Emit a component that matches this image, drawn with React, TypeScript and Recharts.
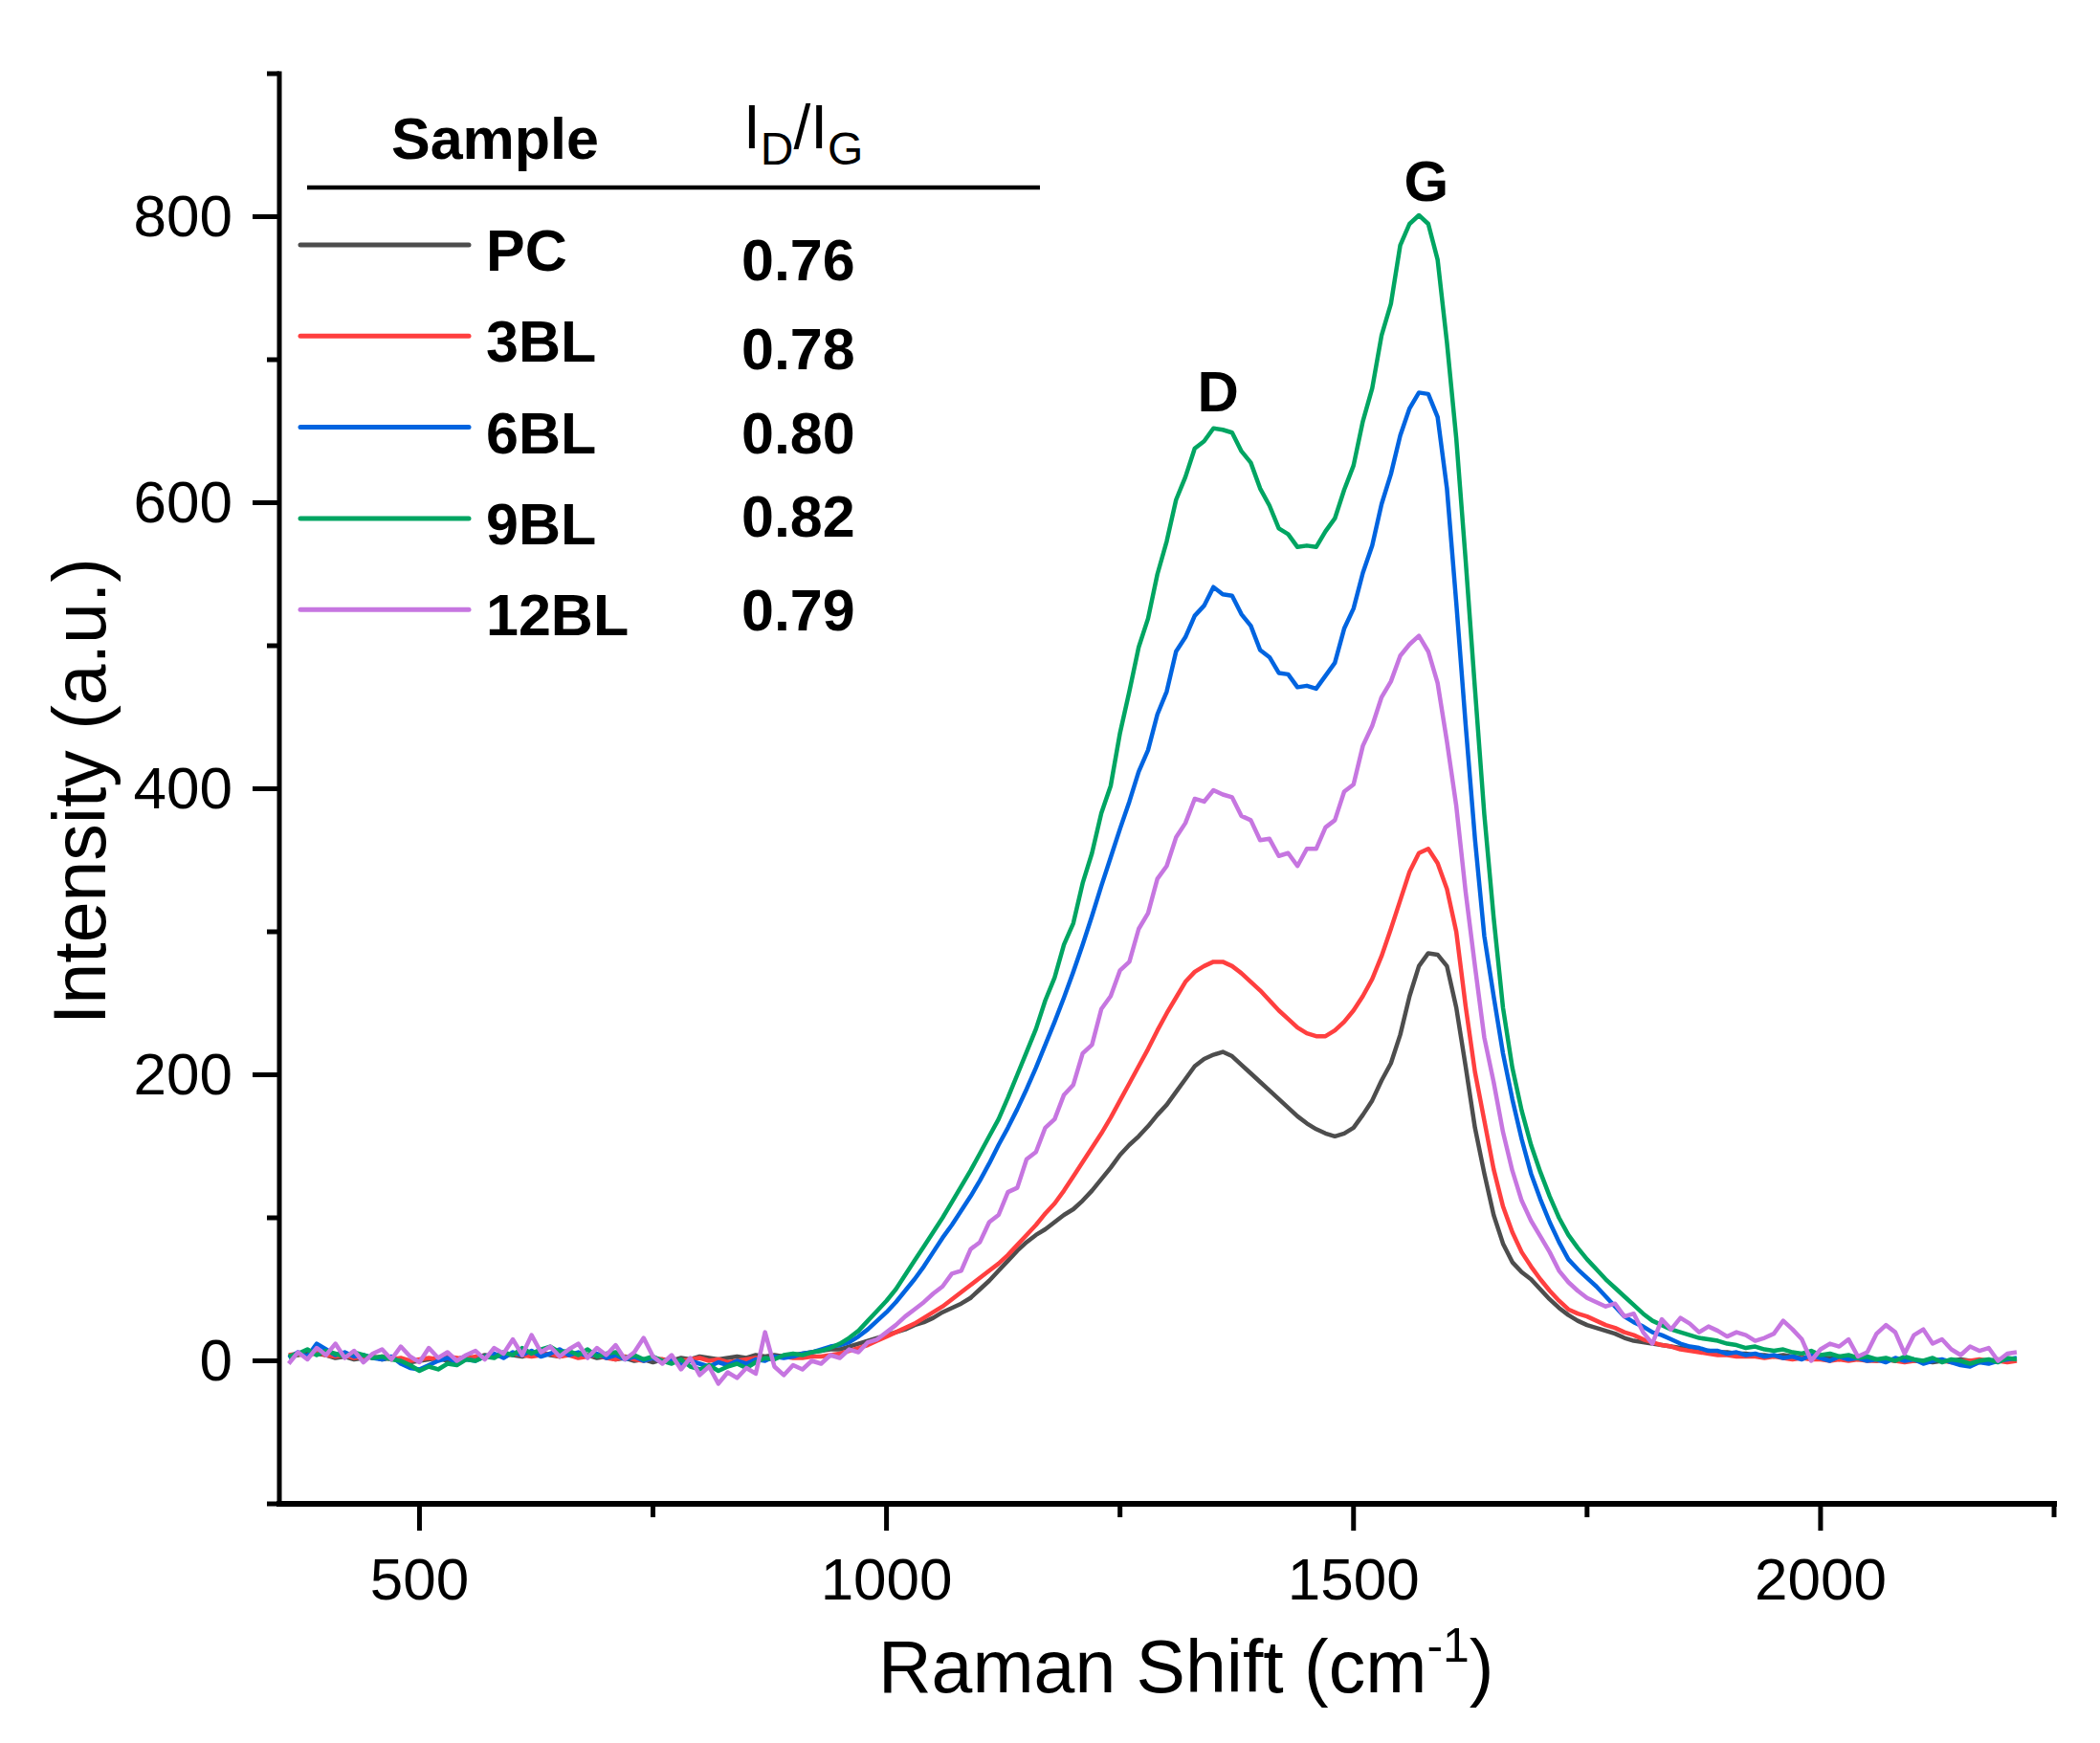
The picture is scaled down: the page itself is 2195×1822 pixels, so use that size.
import React from "react";
import { LineChart, Line, XAxis, YAxis, ReferenceDot } from "recharts";

// Raman shift sampling positions (cm-1)
const ramanShift = [
  360, 370, 380, 390, 400, 410, 420, 430, 440, 450,
  460, 470, 480, 490, 500, 510, 520, 530, 540, 550,
  560, 570, 580, 590, 600, 610, 620, 630, 640, 650,
  660, 670, 680, 690, 700, 710, 720, 730, 740, 750,
  760, 770, 780, 790, 800, 810, 820, 830, 840, 850,
  860, 870, 880, 890, 900, 910, 920, 930, 940, 950,
  960, 970, 980, 990, 1000, 1010, 1020, 1030, 1040, 1050,
  1060, 1070, 1080, 1090, 1100, 1110, 1120, 1130, 1140, 1150,
  1160, 1170, 1180, 1190, 1200, 1210, 1220, 1230, 1240, 1250,
  1260, 1270, 1280, 1290, 1300, 1310, 1320, 1330, 1340, 1350,
  1360, 1370, 1380, 1390, 1400, 1410, 1420, 1430, 1440, 1450,
  1460, 1470, 1480, 1490, 1500, 1510, 1520, 1530, 1540, 1550,
  1560, 1570, 1580, 1590, 1600, 1610, 1620, 1630, 1640, 1650,
  1660, 1670, 1680, 1690, 1700, 1710, 1720, 1730, 1740, 1750,
  1760, 1770, 1780, 1790, 1800, 1810, 1820, 1830, 1840, 1850,
  1860, 1870, 1880, 1890, 1900, 1910, 1920, 1930, 1940, 1950,
  1960, 1970, 1980, 1990, 2000, 2010, 2020, 2030, 2040, 2050,
  2060, 2070, 2080, 2090, 2100, 2110, 2120, 2130, 2140, 2150,
  2160, 2170, 2180, 2190, 2200, 2210,
];

// intensities (a.u.)
const pcIntensity = [
  3, 4, 6, 5, 4, 2, 3, 1, 2, 3,
  1, 2, 0, -1, 0, 1, 2, 0, 1, 3,
  2, 4, 3, 5, 4, 3, 5, 6, 4, 3,
  5, 3, 4, 2, 3, 1, 2, 0, 1, -1,
  1, 0, 2, 1, 3, 2, 1, 2, 3, 2,
  4, 3, 4, 3, 4, 5, 6, 7, 8, 8,
  10, 12, 14, 16, 18, 20, 22, 25, 27, 30,
  34, 37, 40, 44, 50, 56, 63, 70, 77, 83,
  88, 92, 97, 102, 106, 112, 119, 127, 135, 144,
  151, 157, 164, 172, 179, 188, 197, 206, 211, 214,
  216, 213, 207, 201, 195, 189, 183, 177, 171, 166,
  162, 159, 157, 159, 163, 172, 182, 196, 208, 228,
  255, 276, 285, 284, 276, 247, 206, 163, 131, 102,
  82, 69, 62, 57, 50, 43, 37, 32, 28, 25,
  23, 21, 19, 16, 14, 13, 12, 11, 10, 9,
  8, 7, 7, 6, 6, 5, 5, 4, 4, 3,
  4, 3, 2, 3, 2, 2, 1, 2, 1, 1,
  0, 1, 0, 1, 0, 0, -1, 0, 0, 1,
  0, -1, 0, 1, 0, 1,
];

const bl3Intensity = [
  4, 5, 3, 6, 4, 3, 4, 2, 3, 2,
  3, 1, 2, 0, 1, 2, 1, 3, 2, 1,
  3, 2, 4, 3, 5, 4, 3, 4, 5, 3,
  4, 2, 3, 4, 2, 1, 3, 1, 0, 2,
  1, -1, 0, 1, 2, 0, 1, -1, 0, 1,
  2, 1, 2, 3, 2, 2, 3, 3, 4, 5,
  7, 9, 11, 14, 17, 20, 23, 26, 30, 34,
  38, 43, 48, 53, 58, 63, 68, 74, 81, 88,
  95, 103, 110, 119, 129, 139, 149, 159, 170, 182,
  194, 206, 218, 231, 243, 254, 265, 272, 276, 279,
  279, 276, 271, 265, 259, 252, 245, 239, 233, 229,
  227, 227, 231, 237, 245, 255, 267, 283, 302, 322,
  342, 355, 358, 348, 330, 300, 248, 202, 168, 134,
  108, 90, 76, 66, 57, 49, 42, 36, 33, 31,
  28, 25, 23, 20, 18, 15, 13, 11, 10, 8,
  7, 6, 5, 4, 4, 3, 3, 3, 2, 3,
  2, 1, 2, 1, 1, 0, 1, 0, 1, 0,
  0, 1, 0, -1, 0, 0, 1, 0, -1, 0,
  0, 1, 0, 0, -1, 0,
];

const bl6Intensity = [
  2, 6, 3, 12, 8, 4, 6, 3, 4, 2,
  1, 3, -2, -5, -6, -3, 0, 2, -1, 1,
  0, 3, 5, 2, 6, 4, 7, 3, 5, 8,
  4, 6, 3, 5, 2, 4, 1, 3, 0, 2,
  -1, 1, -3, 0, -2, -4, -1, -3, 0, -2,
  1, 0, 3, 2, 3, 5, 6, 8, 10, 11,
  13, 17, 22, 28, 34, 41, 49, 57, 66, 76,
  86, 95, 105, 115, 126, 138, 151, 163, 176, 190,
  205, 221, 237, 254, 272, 291, 311, 332, 352, 372,
  391, 412, 427, 452, 468, 496, 506, 521, 528, 541,
  536, 535, 522, 514, 497, 492, 481, 480, 471, 472,
  470, 479, 488, 512, 526, 551, 570, 599, 620, 647,
  666, 677, 676, 660, 610, 530, 445, 365, 297, 255,
  215, 183, 155, 131, 113, 97, 83, 71, 64, 58,
  52, 45, 38, 31, 27, 24, 20, 18, 15, 12,
  10, 9, 7, 7, 5, 6, 4, 5, 3, 4,
  2, 3, 1, 4, 2, 0, 3, 1, 2, 0,
  1, -1, 2, 0, 1, -2, 0, 1, -1, -3,
  -4, -1, -2, 0, 1, 2,
];

const bl9Intensity = [
  3, 5, 8, 4, 7, 5, 3, 6, 4, 2,
  3, 1, 0, -3, -7, -4, -6, -2, -3, 1,
  0, 3, 2, 6, 4, 9, 5, 8, 10, 6,
  7, 4, 8, 3, 5, 6, 2, 4, 1, 3,
  0, -2, 1, -4, -6, -3, -7, -4, -2, -5,
  -1, 2, 1, 4, 5, 4, 6, 7, 9, 12,
  16, 21, 28, 35, 42, 50, 60, 70, 80, 90,
  100, 111, 122, 133, 145, 157, 169, 184, 200, 216,
  232, 252, 268, 291, 306, 334, 355, 383, 402, 439,
  468, 499, 519, 550, 573, 602, 618, 638, 643, 652,
  651, 649, 636, 628, 610, 598, 582, 578, 569, 570,
  569, 580, 589, 609, 626, 657, 680, 717, 739, 780,
  795, 801, 795, 770, 712, 645, 560, 470, 382, 310,
  247, 205, 175, 151, 132, 115, 100, 88, 79, 71,
  64, 57, 51, 45, 39, 33, 28, 25, 22, 20,
  18, 16, 15, 14, 12, 11, 9, 10, 8, 7,
  8, 6, 5, 7, 4, 5, 3, 4, 2, 3,
  1, 2, 0, 3, 1, 0, 2, -1, 1, 0,
  -2, 0, 1, -1, 2, 1,
];

const bl12Intensity = [
  -2, 6, 1, 9, 4, 12, 2, 7, -1, 5,
  8, 1, 10, 3, -1, 9, 2, 6, 0, 4,
  7, 1, 9, 5, 15, 4, 18, 6, 10, 3,
  8, 12, 2, 9, 4, 11, 1, 6, 16, 3,
  -2, 4, -6, 2, -10, -4, -16, -8, -12, -5,
  -9, 20, -4, -10, -3, -6, 0, -2, 4, 2,
  8, 6, 13, 15, 20, 25, 31, 36, 41, 47,
  52, 61, 63, 78, 83, 97, 102, 118, 121, 141,
  146, 163, 169, 186, 193, 215, 221, 246, 255, 273,
  279, 302, 313, 337, 346, 366, 376, 393, 391, 399,
  396, 394, 381, 378, 364, 365, 353, 355, 346, 358,
  358, 373, 378, 398, 403, 430, 444, 464, 475, 493,
  501, 507, 496, 474, 433, 388, 328, 276, 226, 195,
  160, 133, 112, 98, 87, 76, 63, 55, 49, 44,
  41, 38, 40, 31, 33, 20, 12, 29, 22, 30,
  26, 20, 24, 21, 17, 20, 18, 14, 16, 19,
  28, 22, 15, 0, 8, 12, 10, 15, 3, 6,
  19, 25, 20, 5, 18, 22, 12, 15, 8, 4,
  10, 7, 9, 0, 5, 6,
];

const sampleNames = ["PC", "3BL", "6BL", "9BL", "12BL"];
const idIgRatios = ["0.76", "0.78", "0.80", "0.82", "0.79"];
const seriesColors = ["#4d4d4d", "#ff3f3f", "#0064e0", "#00a562", "#c676e0"];
const seriesValues = [pcIntensity, bl3Intensity, bl6Intensity, bl9Intensity, bl12Intensity];

const xTicks = [500, 750, 1000, 1250, 1500, 1750, 2000, 2250];
const yTicks = [-100, 0, 100, 200, 300, 400, 500, 600, 700, 800, 900];

// peak annotations (position in data units)
const peakLabels = [
  { name: "D", shift: 1355, intensity: 664 },
  { name: "G", shift: 1578, intensity: 811 },
];

const chartData = ramanShift.map((shift, i) => {
  const row: Record<string, number> = { shift };
  sampleNames.forEach((name, s) => {
    row[name] = seriesValues[s][i];
  });
  return row;
});

const FONT = "'Liberation Sans', Arial, Helvetica, sans-serif";

const XTick = (props: any) => {
  const { x, y, payload } = props;
  const major = payload.value % 500 === 0;
  return (
    <g>
      <line x1={x} y1={y} x2={x} y2={y + (major ? 28 : 14)} stroke="#000" strokeWidth={5} />
      {major && (
        <text x={x} y={y + 100} textAnchor="middle" fontSize={62} fontFamily={FONT} fill="#000">
          {payload.value}
        </text>
      )}
    </g>
  );
};

const YTick = (props: any) => {
  const { x, y, payload } = props;
  const major = payload.value % 200 === 0;
  return (
    <g>
      <line x1={x} y1={y} x2={x - (major ? 28 : 13)} y2={y} stroke="#000" strokeWidth={5} />
      {major && (
        <text x={x - 49} y={y + 20} textAnchor="end" fontSize={62} fontFamily={FONT} fill="#000">
          {payload.value}
        </text>
      )}
    </g>
  );
};

const ratioOffsets = [37, 35, 27, 19, 22];

const App: React.FC = () => {
  return (
    <div style={{ position: "absolute", left: 0, top: 0, width: 2195, height: 1822, background: "#fff" }}>
      <LineChart width={2195} height={1822} data={chartData} margin={{ top: 77, right: 48, bottom: 0, left: 0 }}>
        <XAxis
          dataKey="shift"
          type="number"
          domain={[350, 2250]}
          ticks={xTicks}
          interval={0}
          height={250}
          tickSize={0}
          tickMargin={0}
          tickLine={false}
          tick={<XTick />}
          axisLine={{ stroke: "#000", strokeWidth: 6, strokeLinecap: "square" }}
        />
        <XAxis
          xAxisId="top"
          orientation="top"
          type="number"
          domain={[350, 2250]}
          height={0}
          tick={false}
          tickLine={false}
          axisLine={{ stroke: "#000", strokeWidth: 5, strokeLinecap: "square" }}
        />
        <YAxis
          type="number"
          domain={[-100, 900]}
          ticks={yTicks}
          interval={0}
          width={292}
          tickSize={0}
          tickMargin={0}
          tickLine={false}
          tick={<YTick />}
          axisLine={{ stroke: "#000", strokeWidth: 5, strokeLinecap: "square" }}
        />
        <YAxis
          yAxisId="right"
          orientation="right"
          type="number"
          domain={[-100, 900]}
          width={0}
          tick={false}
          tickLine={false}
          axisLine={{ stroke: "#000", strokeWidth: 5, strokeLinecap: "square" }}
        />
        {sampleNames.map((name, i) => (
          <Line
            key={name}
            type="linear"
            dataKey={name}
            stroke={seriesColors[i]}
            strokeWidth={4.5}
            strokeLinejoin="round"
            dot={false}
            isAnimationActive={false}
          />
        ))}
        {peakLabels.map((p) => (
          <ReferenceDot
            key={p.name}
            x={p.shift}
            y={p.intensity}
            r={0}
            shape={(s: any) => (
              <text x={s.cx} y={s.cy} textAnchor="middle" fontSize={60} fontWeight="bold" fontFamily={FONT} fill="#000">
                {p.name}
              </text>
            )}
          />
        ))}
      </LineChart>

      <svg width={2195} height={1822} style={{ position: "absolute", left: 0, top: 0, pointerEvents: "none" }}>
        {/* axis titles */}
        <text
          x={110}
          y={827}
          transform="rotate(-90 110 827)"
          textAnchor="middle"
          fontSize={77}
          fontFamily={FONT}
          fill="#000"
        >
          Intensity (a.u.)
        </text>
        <text x={918} y={1769} fontSize={77} fontFamily={FONT} fill="#000">
          Raman Shift (cm
          <tspan fontSize={50} dy={-32}>-1</tspan>
          <tspan fontSize={77} dy={32}>)</tspan>
        </text>

        {/* legend table */}
        <text x={409} y={166} fontSize={61} fontWeight="bold" fontFamily={FONT} fill="#000">
          Sample
        </text>
        <text x={777} y={155} fontSize={64} fontFamily={FONT} fill="#000">
          I<tspan fontSize={48} dy={17}>D</tspan>
          <tspan fontSize={64} dy={-17}>/I</tspan>
          <tspan fontSize={48} dy={17}>G</tspan>
        </text>
        <line x1={321} y1={196} x2={1087} y2={196} stroke="#000" strokeWidth={4.5} />
        {sampleNames.map((name, i) => {
          const rowY = 256 + i * 95.3;
          return (
            <g key={name}>
              <line x1={314} y1={rowY} x2={490} y2={rowY} stroke={seriesColors[i]} strokeWidth={5} strokeLinecap="round" />
              <text x={508} y={rowY + 27} fontSize={61} fontWeight="bold" fontFamily={FONT} fill="#000">
                {name}
              </text>
              <text x={775} y={rowY + ratioOffsets[i]} fontSize={61} fontWeight="bold" fontFamily={FONT} fill="#000">
                {idIgRatios[i]}
              </text>
            </g>
          );
        })}
      </svg>
    </div>
  );
};

export default App;
